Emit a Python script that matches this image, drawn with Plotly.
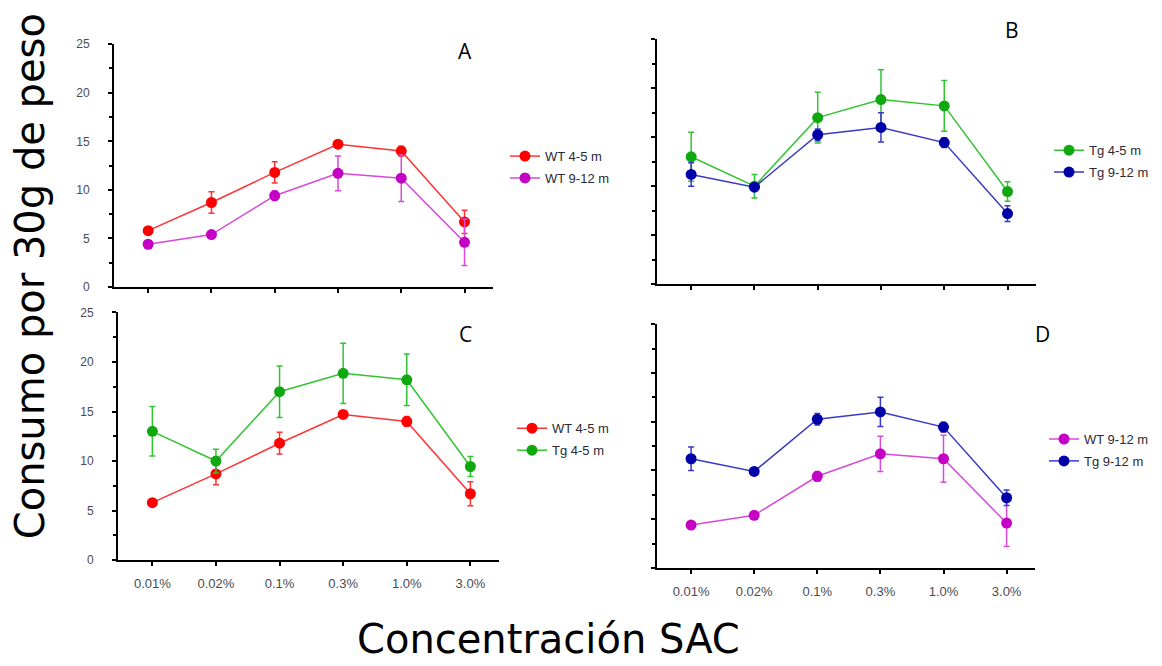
import plotly.graph_objects as go

# ---- data ----
categories = ["0.01%", "0.02%", "0.1%", "0.3%", "1.0%", "3.0%"]
wt_4_5 = [5.8, 8.7, 11.8, 14.7, 14.0, 6.7]
wt_4_5_err = [0.2, 1.1, 1.1, 0.3, 0.5, 1.2]
wt_9_12 = [4.4, 5.4, 9.4, 11.7, 11.2, 4.6]
wt_9_12_err = [0.2, 0.2, 0.5, 1.8, 2.4, 2.4]
tg_4_5 = [13.0, 10.0, 17.0, 18.85, 18.2, 9.45]
tg_4_5_err = [2.5, 1.2, 2.6, 3.05, 2.6, 1.0]
tg_9_12 = [11.2, 9.9, 15.25, 16.0, 14.45, 7.2]
tg_9_12_err = [1.2, 0.3, 0.6, 1.5, 0.5, 0.8]
y_ticks = [0, 5, 10, 15, 20, 25]

W, H = 1162, 666

series = {
    "wt45": dict(name="WT 4-5 m", y=wt_4_5, e=wt_4_5_err, mc="#ff0000", lc="#ff3333"),
    "wt912": dict(name="WT 9-12 m", y=wt_9_12, e=wt_9_12_err, mc="#c400c4", lc="#d84ad8"),
    "tg45": dict(name="Tg 4-5 m", y=tg_4_5, e=tg_4_5_err, mc="#10a810", lc="#33c433"),
    "tg912": dict(name="Tg 9-12 m", y=tg_9_12, e=tg_9_12_err, mc="#0000a8", lc="#3838c8"),
}

panels = [
    ("", ["wt45", "wt912"], "legend", (114, 493, 38, 286), True, False),
    ("2", ["tg45", "tg912"], "legend2", (657, 1036, 33, 283), False, False),
    ("3", ["wt45", "tg45"], "legend3", (118, 499, 312, 565), True, True),
    ("4", ["wt912", "tg912"], "legend4", (657, 1035, 324, 573), False, True),
]

fig = go.Figure()
layout = {}
for suffix, keys, leg, (x0, x1, yt, yb), show_y, show_x in panels:
    for i, k in enumerate(keys):
        s = series[k]
        fig.add_trace(go.Scatter(
            x=categories, y=s["y"], name=s["name"],
            mode="lines+markers",
            line=dict(color=s["lc"], width=1.5),
            marker=dict(color=s["mc"], size=11, symbol="circle"),
            error_y=dict(type="data", array=s["e"], color=s["lc"], thickness=1.5, width=3),
            xaxis="x" + suffix, yaxis="y" + suffix,
            legend=leg, legendgroup=leg + str(i),
        ))
    layout["xaxis" + suffix] = dict(
        domain=[x0 / W, x1 / W], anchor="y" + suffix, type="category",
        range=[-0.54, 5.45], showline=True, linecolor="black", linewidth=2,
        ticks="outside", ticklen=4, tickwidth=1.5, tickcolor="black",
        showgrid=False, zeroline=False, showticklabels=show_x,
        tickfont=dict(family="Liberation Sans, Arial", size=13, color="#4a4a55"),
        ticklabelstandoff=6,
    )
    layout["yaxis" + suffix] = dict(
        domain=[1 - yb / H, 1 - yt / H], anchor="x" + suffix,
        range=[0, 25], tickvals=y_ticks, showline=True, linecolor="black", linewidth=2,
        ticks="outside", ticklen=4, tickwidth=1.5, tickcolor="black",
        minor=dict(dtick=2.5, tick0=0, ticks="outside", ticklen=3, tickwidth=1.5,
                   tickcolor="black", showgrid=False),
        showgrid=False, zeroline=False, showticklabels=show_y,
        tickfont=dict(family="Liberation Sans, Arial", size=12, color="#4a4a55"),
        ticklabelstandoff=16,
    )

leg_font = dict(family="Liberation Sans, Arial", size=13, color="#2a2a35")
legend_pos = {
    "legend": (505, 137),
    "legend2": (1049, 131),
    "legend3": (512, 415),
    "legend4": (1044, 426),
}
for name, (lx, ly) in legend_pos.items():
    layout[name] = dict(x=lx / W, y=1 - ly / H, xanchor="left", yanchor="top",
                        font=leg_font, bgcolor="rgba(0,0,0,0)", borderwidth=0,
                        traceorder="grouped", tracegroupgap=2)

letters = [("A", 465, 45), ("B", 1012, 23), ("C", 465, 334), ("D", 1042, 334)]
anns = []
for t, lx, ly in letters:
    anns.append(dict(text=t, x=lx / W, y=1 - ly / H, xref="paper", yref="paper",
                     showarrow=False, xanchor="center", yanchor="middle",
                     font=dict(family="Open Sans", size=21, color="black")))
anns.append(dict(text="Consumo por 30g de peso", x=30 / W, y=1 - 275 / H,
                 xref="paper", yref="paper", showarrow=False, textangle=-90,
                 xanchor="center", yanchor="middle",
                 font=dict(family="DejaVu Sans", size=40, color="black")))
anns.append(dict(text="Concentración SAC", x=548 / W, y=1 - 646 / H,
                 xref="paper", yref="paper", showarrow=False,
                 xanchor="center", yanchor="middle",
                 font=dict(family="DejaVu Sans", size=40, color="black")))

fig.update_layout(
    width=W, height=H, margin=dict(l=0, r=0, t=0, b=0),
    paper_bgcolor="white", plot_bgcolor="white",
    showlegend=True, annotations=anns, **layout,
)

fig.write_html("out.html")
